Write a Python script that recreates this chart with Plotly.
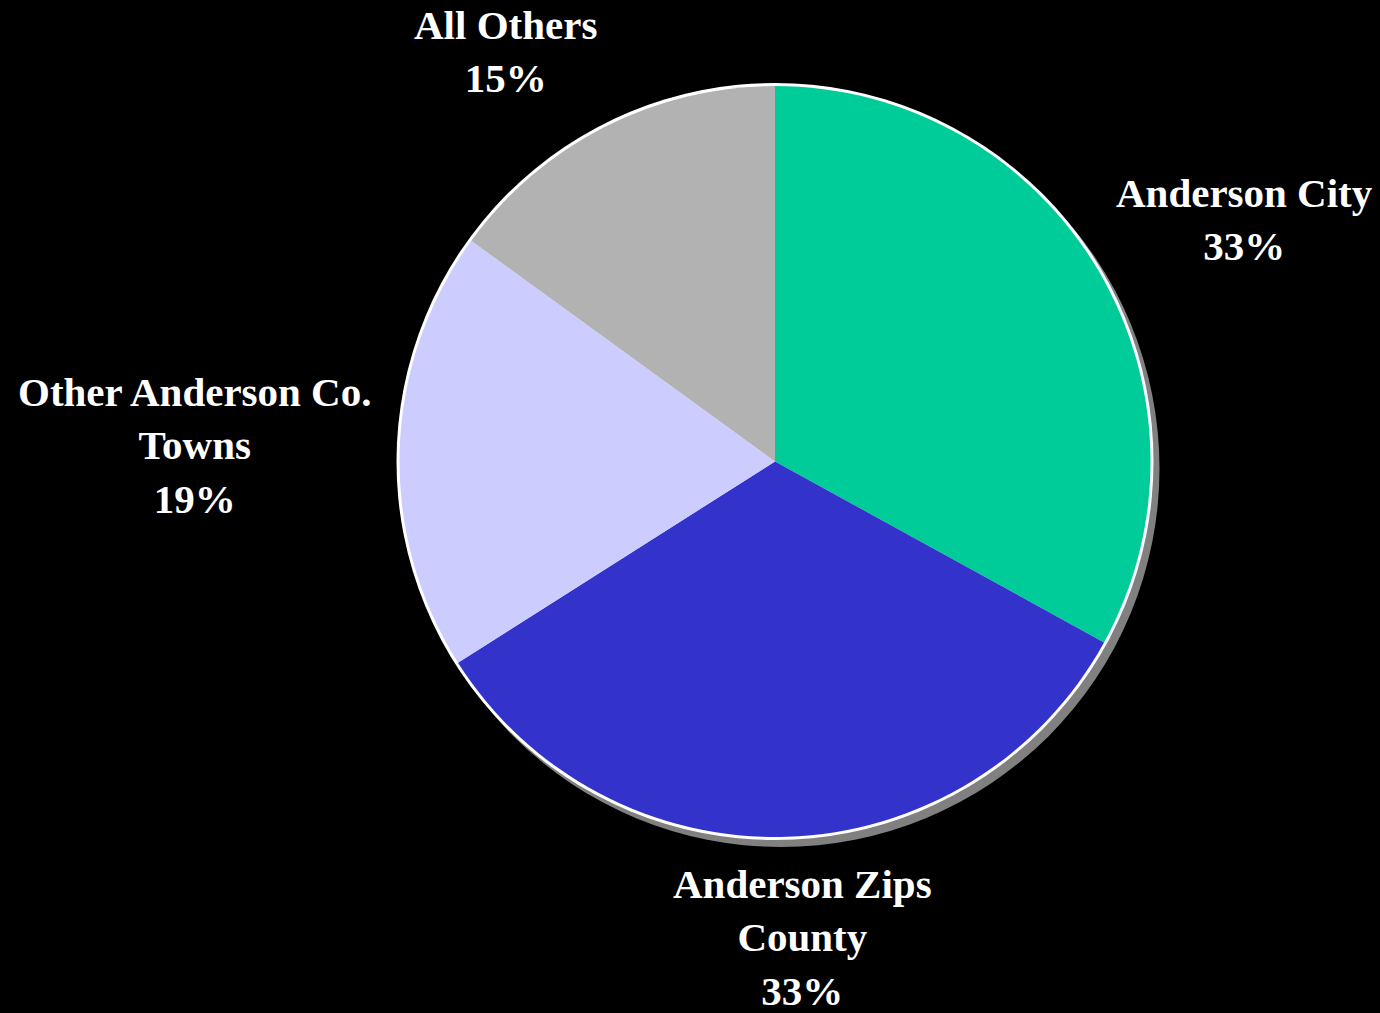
import plotly.graph_objects as go

# Share of records by area
categories = ["Anderson City", "Anderson Zips<br>County", "Other Anderson Co.<br>Towns", "All Others"]
shares = [33, 33, 19, 15]
colors = ["#00CC99", "#3333CC", "#CCCCFF", "#B2B2B2"]

W, H = 1380, 1013
CX, CY, R = 775, 461.5, 375.5  # pie centre and radius in pixels


def disk_domain(cx, cy, r):
    """Square domain (paper units) for a pie of radius r centred at (cx, cy) in pixels."""
    return dict(x=[(cx - r) / W, (cx + r) / W],
                y=[1 - (cy + r) / H, 1 - (cy - r) / H])


fig = go.Figure()

# drop shadow behind the pie
fig.add_trace(go.Pie(values=[1], marker=dict(colors=["#808080"]), textinfo="none",
                     hoverinfo="skip", showlegend=False, sort=False,
                     domain=disk_domain(CX + 6, CY + 7, R + 3)))
# white rim around the outer edge
fig.add_trace(go.Pie(values=[1], marker=dict(colors=["#FFFFFF"]), textinfo="none",
                     hoverinfo="skip", showlegend=False, sort=False,
                     domain=disk_domain(CX, CY, R + 3)))
# the slices
fig.add_trace(go.Pie(labels=categories, values=shares, marker=dict(colors=colors, line=dict(width=0)),
                     textinfo="none", sort=False, direction="clockwise", rotation=0,
                     showlegend=False, domain=disk_domain(CX, CY, R)))

# outside labels: (category index, x px, y px)
label_pos = [(0, 1244, 220), (1, 802, 937), (2, 194, 445), (3, 506, 51)]
for i, x, y in label_pos:
    fig.add_annotation(text=f"{categories[i]}<br>{shares[i]}%", x=x / W, y=1 - y / H,
                       xref="paper", yref="paper", xanchor="center", yanchor="middle",
                       showarrow=False, align="center",
                       font=dict(family="Liberation Serif", size=41, color="white", weight="bold"))

fig.update_layout(width=W, height=H, margin=dict(l=0, r=0, t=0, b=0),
                  paper_bgcolor="black", plot_bgcolor="black")

fig.write_html("out.html")
